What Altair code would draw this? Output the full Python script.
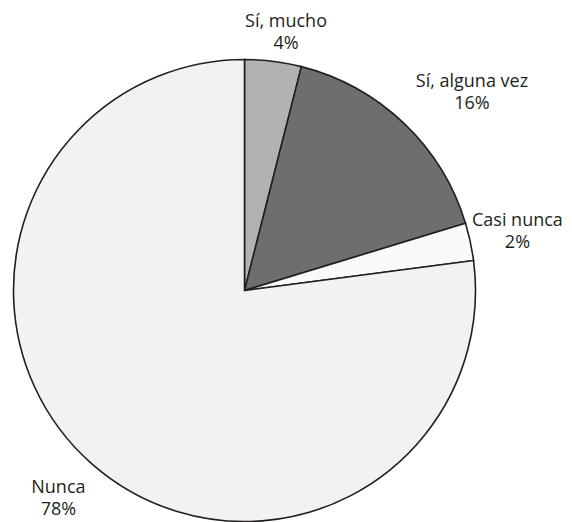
import altair as alt
import pandas as pd

categories = ["Sí, mucho", "Sí, alguna vez", "Casi nunca", "Nunca"]
values = [3.96, 16.34, 2.63, 77.07]
pct_labels = ["4%", "16%", "2%", "78%"]
colors = ["#b1b2b4", "#6d6e70", "#fafafa", "#f2f2f2"]

df = pd.DataFrame({
    "cat": categories,
    "val": values,
    "idx": list(range(len(categories))),
    "label": [f"{c}\n{p}" for c, p in zip(categories, pct_labels)],
})

theta = alt.Theta("val:Q", stack=True)
color = alt.Color("cat:N", scale=alt.Scale(domain=categories, range=colors), legend=None)
order = alt.Order("idx:Q")

base = alt.Chart(df)

arcs = base.mark_arc(outerRadius=231, stroke="#231f20", strokeWidth=1.6).encode(
    theta=theta, color=color, order=order
)

offsets = {
    "Sí, mucho": (8, -1),
    "Sí, alguna vez": (41, -13),
    "Casi nunca": (9, -13),
    "Nunca": (-8, -5),
}

layers = [arcs]
for cat in categories:
    dx, dy = offsets[cat]
    t = base.mark_text(
        radius=270, font="Open Sans", fontSize=18, lineHeight=22, lineBreak="\n",
        color="#231f20", align="center", baseline="middle", dx=dx, dy=dy,
    ).encode(
        theta=theta, order=order, text="label:N",
        opacity=alt.condition(alt.datum.cat == cat, alt.value(1), alt.value(0)),
    )
    layers.append(t)

chart = alt.layer(*layers).properties(
    width=473, height=565,
    autosize=alt.AutoSizeParams(type="none"),
    padding={"left": 0, "top": 0, "right": 83, "bottom": 0},
).configure_view(stroke=None)

chart.save("out.html", embed_options={"renderer": "svg", "actions": False})
